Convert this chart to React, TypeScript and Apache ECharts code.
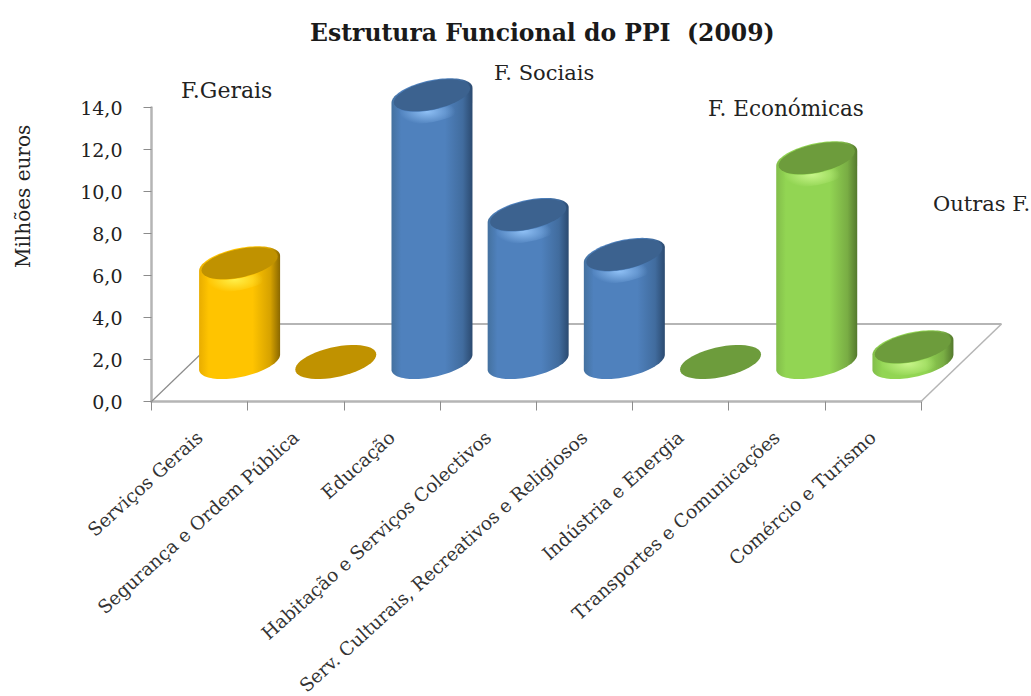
import React, { useEffect, useRef } from "react";
import * as echarts from "echarts";

const categories = [
  "Serviços Gerais",
  "Segurança e Ordem Pública",
  "Educação",
  "Habitação e Serviços Colectivos",
  "Serv. Culturais, Recreativos e Religiosos",
  "Indústria e Energia",
  "Transportes e Comunicações",
  "Comércio e Turismo",
];
const values = [4.7, 0, 12.7, 7.0, 5.1, 0, 9.7, 0.7];
const groups = [0, 0, 1, 1, 1, 2, 2, 2];
const yTicks = [0, 2, 4, 6, 8, 10, 12, 14];

const FONT = "'DejaVu Serif', 'Liberation Serif', serif";
const palettes = [
  { edgeL: "#e8ad00", main: "#ffc400", edgeM: "#d6a200", edgeR: "#8a6800", top: "#c09200", glow: "#fff04a" },
  { edgeL: "#44719f", main: "#4f81bd", edgeM: "#416c9e", edgeR: "#2b4a70", top: "#3c628f", glow: "#8fc0f5" },
  { edgeL: "#82bd4a", main: "#92d553", edgeM: "#79ad44", edgeR: "#54792d", top: "#6d9c3c", glow: "#c8f58a" },
];
const RX = 40.5, SK = 7.5, RB = 15.3, DX = 40, DY = 39.5;

function pt(cx: number, cy: number, t: number, k = 1) {
  return [cx + RX * k * Math.cos(t), cy + k * (-SK * Math.cos(t) + RB * Math.sin(t))];
}
function arc(cx: number, cy: number, from: number, to: number, k = 1) {
  const out: number[][] = [];
  for (let i = 0; i <= 48; i++) out.push(pt(cx, cy, from + ((to - from) * i) / 48, k));
  return out;
}
const toPath = (pts: number[][]) =>
  "M" + pts.map((p) => p[0].toFixed(2) + " " + p[1].toFixed(2)).join("L") + "Z";

function renderBar(params: any, api: any) {
  const i = api.value(0);
  const v = api.value(1);
  const base = api.coord([i, 0]);
  const head = api.coord([i, v]);
  const cx = base[0] + DX;
  const by = base[1] - DY;
  const ty = head[1] - DY;
  const p = palettes[groups[i]];
  const children: any[] = [];
  if (v > 0) {
    const body = [...arc(cx, by, Math.PI, 0), ...arc(cx, ty, 0, -Math.PI)];
    children.push({
      type: "path",
      shape: { pathData: toPath(body) },
      style: {
        fill: new echarts.graphic.LinearGradient(0, 0, 1, 0, [
          { offset: 0, color: p.edgeL },
          { offset: 0.12, color: p.main },
          { offset: 0.66, color: p.main },
          { offset: 0.88, color: p.edgeM },
          { offset: 1, color: p.edgeR },
        ]),
      },
    });
    const band = Math.min(12, by - ty);
    const glow = [...arc(cx, ty, Math.PI, 0, 0.97), ...arc(cx, ty + band, 0, Math.PI, 0.97)];
    children.push({
      type: "path",
      shape: { pathData: toPath(glow) },
      style: {
        fill: new echarts.graphic.RadialGradient(0.44, 0.66, 0.36, [
          { offset: 0, color: p.glow },
          { offset: 1, color: p.glow + "00" },
        ]),
      },
    });
  }
  children.push({
    type: "path",
    shape: { pathData: toPath(arc(cx, ty, 0, Math.PI * 2, v > 0 ? 0.94 : 1)) },
    style: { fill: p.top },
  });
  return { type: "group", children };
}

function renderFloor(params: any, api: any) {
  const band = api.size([1, 0])[0];
  const first = api.coord([0, 0]);
  const last = api.coord([categories.length - 1, 0]);
  const a = [first[0] - band / 2, first[1]];
  const b = [last[0] + band / 2, last[1]];
  const ox = 80.5, oy = 77.5;
  const line = (x1: number, y1: number, x2: number, y2: number, w: number, c: string) => ({
    type: "line",
    shape: { x1, y1, x2, y2 },
    style: { stroke: c, lineWidth: w },
  });
  return {
    type: "group",
    children: [
      line(a[0], a[1], a[0] + ox, a[1] - oy, 1.2, "#8c8c8c"),
      line(b[0], b[1], b[0] + ox, b[1] - oy, 1.5, "#b5b5b5"),
      line(a[0] + ox, a[1] - oy, b[0] + ox, b[1] - oy, 1.8, "#b5b5b5"),
    ],
  };
}

export default function App() {
  const ref = useRef<HTMLDivElement>(null);
  useEffect(() => {
    const chart = echarts.init(ref.current!, null, { renderer: "svg" });
    const text = (t: string, x: number, y: number, size: number, extra: any = {}) => ({
      type: "text",
      x,
      y,
      style: { text: t, font: `${size}px ${FONT}`, fill: "#222", ...extra },
    });
    chart.setOption({
      animation: false,
      backgroundColor: "#ffffff",
      title: {
        text: "Estrutura Funcional do PPI  (2009)",
        left: 305,
        top: 16,
        textStyle: { fontFamily: FONT, fontSize: 23.5, fontWeight: "bold", color: "#1a1a1a" },
      },
      grid: { left: 151.5, right: 110, top: 107.5, bottom: 294.5, outerBoundsMode: "none" },
      xAxis: {
        type: "category",
        data: categories,
        axisLine: { lineStyle: { color: "#b5b5b5", width: 2.5 } },
        axisTick: { show: true, length: 9, alignWithLabel: false, lineStyle: { color: "#8c8c8c", width: 1 } },
        axisLabel: {
          interval: 0,
          rotate: 42,
          margin: 33,
          fontFamily: FONT,
          fontSize: 18.5,
          color: "#333",
          hideOverlap: false,
        },
      },
      yAxis: {
        type: "value",
        min: yTicks[0],
        max: yTicks[yTicks.length - 1],
        interval: 2,
        splitLine: { show: false },
        axisLine: { show: true, lineStyle: { color: "#b5b5b5", width: 2.5 } },
        axisTick: { show: true, length: 8, lineStyle: { color: "#8c8c8c", width: 1 } },
        axisLabel: {
          margin: 29,
          fontFamily: FONT,
          fontSize: 19,
          color: "#222",
          formatter: (v: number) => v.toFixed(1).replace(".", ","),
        },
      },
      series: [
        { type: "custom", name: "Piso", data: [[0]], renderItem: renderFloor, z: 1, silent: true },
        {
          type: "custom",
          name: "PPI",
          data: values.map((v, i) => [i, v]),
          encode: { x: 0, y: 1 },
          renderItem: renderBar,
          z: 2,
          clip: false,
        },
      ],
      graphic: [
        text("F.Gerais", 181, 79, 22),
        text("F. Sociais", 494, 62, 21),
        text("F. Económicas", 708, 97, 21.5),
        text("Outras F.", 933, 193, 21),
        {
          ...text("Milhões euros", 0, 0, 20),
          x: 13,
          y: 268,
          rotation: Math.PI / 2,
        },
      ],
    });
    return () => chart.dispose();
  }, []);
  return <div ref={ref} style={{ position: "fixed", left: 0, top: 0, width: 1031, height: 696 }} />;
}
